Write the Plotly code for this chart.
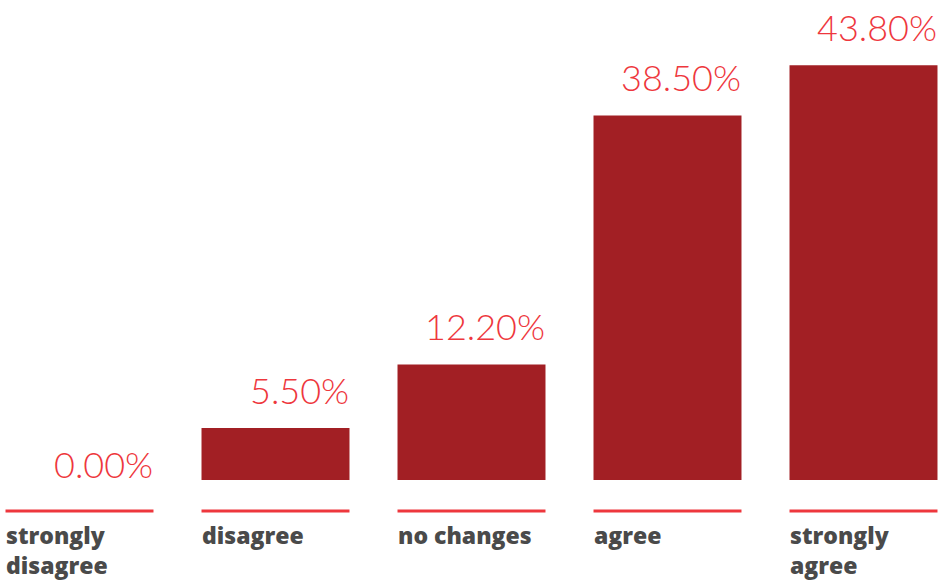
import plotly.graph_objects as go

# Survey responses (share of respondents, %)
categories = ["strongly<br>disagree", "disagree", "no changes", "agree", "strongly<br>agree"]
values = [0.0, 5.5, 12.2, 38.5, 43.8]
value_labels = ["0.00%", "5.50%", "12.20%", "38.50%", "43.80%"]

BAR_COLOR = "#a21f24"
ACCENT = "#ee373d"
TEXT_DARK = "#4a4a4a"
BAR_W = 0.755

x = list(range(len(categories)))

fig = go.Figure(
    go.Bar(
        x=x,
        y=values,
        width=BAR_W,
        marker=dict(color=BAR_COLOR, line=dict(width=0)),
        hoverinfo="skip",
    )
)

annotations = []
shapes = []
for i, (cat, v, lab) in enumerate(zip(categories, values, value_labels)):
    # value label, right-aligned above the bar
    annotations.append(dict(
        x=i + BAR_W / 2, y=v, xref="x", yref="y",
        text=lab, showarrow=False, xanchor="right", yanchor="bottom",
        yshift=14 if v > 0 else -8, xshift=2,
        font=dict(family="Lato", size=36, color=ACCENT, weight=300),
    ))
    # category label, left-aligned under the bar
    annotations.append(dict(
        x=i - BAR_W / 2, y=-0.078, xref="x", yref="paper",
        text=cat, showarrow=False, xanchor="left", yanchor="top",
        align="left", xshift=-2,
        font=dict(family="Open Sans", size=23, color=TEXT_DARK, weight=800),
    ))
    # red rule under each bar slot
    shapes.append(dict(
        type="line", xref="x", yref="paper",
        x0=i - BAR_W / 2, x1=i + BAR_W / 2, y0=-0.0646, y1=-0.0646,
        line=dict(color=ACCENT, width=3),
    ))

fig.update_layout(
    width=938, height=580,
    margin=dict(l=0, r=0, t=0, b=100),
    paper_bgcolor="white", plot_bgcolor="white",
    showlegend=False,
    xaxis=dict(range=[-0.4056, 4.3801], visible=False, fixedrange=True),
    yaxis=dict(range=[0, 50.69], visible=False, fixedrange=True),
    annotations=annotations,
    shapes=shapes,
)

fig.write_html("out.html")
